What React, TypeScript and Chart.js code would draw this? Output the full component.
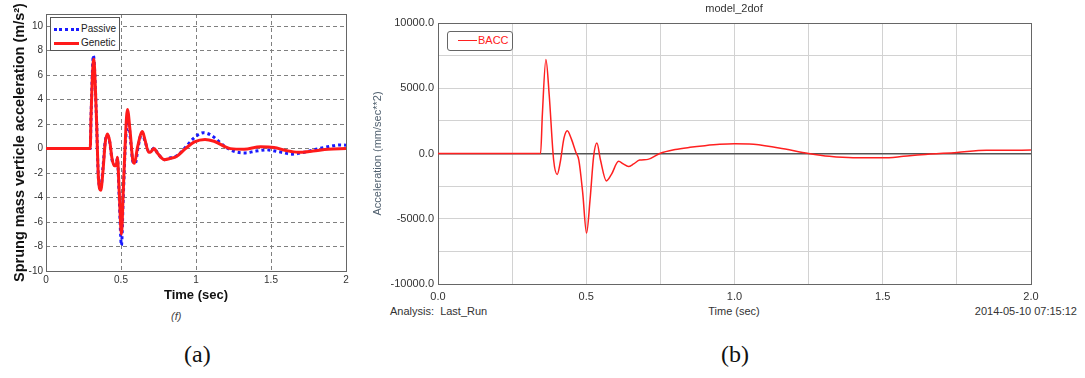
import React, { useEffect, useRef } from "react";
import { Chart, registerables } from "chart.js";

Chart.register(...registerables);

// ---- Data: chart (a) ----
const passiveT = [0, 0.295, 0.3, 0.316, 0.335, 0.35, 0.365, 0.38, 0.395, 0.41, 0.425, 0.44, 0.455, 0.468, 0.476, 0.488, 0.503, 0.515, 0.53, 0.548, 0.565, 0.58, 0.595, 0.615, 0.64, 0.66, 0.685, 0.7, 0.72, 0.745, 0.79, 0.83, 0.87, 0.93, 0.98, 1.05, 1.1, 1.2, 1.26, 1.33, 1.4, 1.47, 1.55, 1.64, 1.72, 1.8, 1.9, 1.96, 2.0];
const passiveV = [0, 0, 2.5, 7.6, 3, -2.5, -3.2, -1.5, 0.6, 1.1, 0.5, -0.9, -1.3, -1.3, -0.8, -4, -7.9, -4, 0.5, 2.2, 0.5, -1.1, -1.2, 0.2, 1.3, 0.6, -0.2, -0.2, 0.05, -0.4, -0.9, -0.75, -0.6, 0.1, 0.8, 1.3, 1.1, 0.1, -0.25, -0.35, -0.2, -0.1, -0.25, -0.45, -0.3, -0.05, 0.2, 0.3, 0.28];
const geneticT = [0, 0.295, 0.3, 0.318, 0.335, 0.35, 0.365, 0.38, 0.395, 0.41, 0.425, 0.44, 0.455, 0.468, 0.476, 0.488, 0.503, 0.515, 0.53, 0.543, 0.56, 0.578, 0.59, 0.61, 0.643, 0.66, 0.685, 0.7, 0.72, 0.745, 0.79, 0.83, 0.87, 0.93, 0.99, 1.06, 1.12, 1.23, 1.32, 1.43, 1.52, 1.6, 1.68, 1.78, 1.88, 2.0];
const geneticV = [0, 0, 2.5, 7.3, 3, -2.5, -3.4, -1.8, 0.5, 1.2, 0.6, -0.8, -1.4, -1.4, -0.7, -3.5, -7.0, -3.5, 1.0, 3.2, 1.5, -0.9, -1.2, 0.1, 1.4, 0.7, -0.3, -0.25, 0, -0.4, -0.9, -0.8, -0.65, 0, 0.55, 0.75, 0.6, 0, -0.05, 0.15, 0.1, -0.15, -0.3, -0.2, -0.05, 0];
const aYTicks = [-10, -8, -6, -4, -2, 0, 2, 4, 6, 8, 10];

// ---- Data: chart (b) ----
const baccT = [0, 0.346, 0.352, 0.364, 0.375, 0.39, 0.402, 0.412, 0.425, 0.436, 0.45, 0.465, 0.475, 0.488, 0.501, 0.513, 0.525, 0.536, 0.548, 0.568, 0.585, 0.609, 0.625, 0.642, 0.66, 0.68, 0.708, 0.748, 0.8, 0.85, 0.9, 0.95, 1.0, 1.05, 1.15, 1.25, 1.32, 1.4, 1.5, 1.57, 1.63, 1.75, 1.85, 2.0];
const baccV = [0, 0, 3000, 7200, 4500, -500, -1600, -700, 1200, 1750, 1100, 100, -500, -3000, -6100, -3500, -200, 800, -500, -2100, -1600, -600, -800, -1000, -800, -500, -450, 0, 300, 470, 600, 700, 740, 730, 420, 0, -220, -330, -330, -220, -100, 80, 240, 260];

const pts = (t: number[], v: number[]) => t.map((x, i) => ({ x, y: v[i] }));

const SANS = "'Liberation Sans', Arial, sans-serif";

const boxPlugin = (color: string) => ({
  id: "boxBorder",
  beforeDatasetsDraw(chart: any) {
    const { ctx, chartArea: a } = chart;
    ctx.save();
    ctx.strokeStyle = color;
    ctx.lineWidth = 1;
    ctx.strokeRect(Math.round(a.left) + 0.5, Math.round(a.top) + 0.5, Math.round(a.right - a.left), Math.round(a.bottom - a.top));
    ctx.restore();
  },
});

function ChartA() {
  const ref = useRef<HTMLCanvasElement>(null);
  useEffect(() => {
    const chart = new Chart(ref.current!, {
      type: "line",
      data: {
        datasets: [
          {
            label: "Passive",
            data: pts(passiveT, passiveV),
            borderColor: "#1a1aff",
            borderWidth: 3,
            borderDash: [3, 3],
            pointRadius: 0,
            cubicInterpolationMode: "monotone",
            order: 2,
          },
          {
            label: "Genetic",
            data: pts(geneticT, geneticV),
            borderColor: "#ff1a1a",
            borderWidth: 3,
            pointRadius: 0,
            cubicInterpolationMode: "monotone",
            order: 1,
          },
        ],
      },
      options: {
        responsive: false,
        animation: false,
        layout: { padding: { left: 0, top: 14, right: 14, bottom: 0 } },
        plugins: { legend: { display: false }, tooltip: { enabled: false } },
        scales: {
          x: {
            type: "linear",
            min: 0,
            max: 2,
            ticks: {
              stepSize: 0.5,
              color: "#333",
              font: { family: SANS, size: 10 },
              padding: 3,
              maxRotation: 0,
              callback: (v: any) => String(Math.round(Number(v) * 100) / 100),
            },
            grid: {
              drawTicks: false,
              color: (c: any) => (c.tick && (c.tick.value === 0 || c.tick.value === 2) ? "rgba(0,0,0,0)" : "#808080"),
            },
            border: { display: false, dash: [4, 3] },
            title: { display: true, text: "Time (sec)", color: "#111", font: { family: SANS, size: 13, weight: "bold" }, padding: { top: 0, bottom: 7 } },
            afterFit: (s: any) => { s.height = 39; },
          },
          y: {
            type: "linear",
            min: -10,
            max: 11,
            afterBuildTicks: (axis: any) => { axis.ticks = aYTicks.map((v) => ({ value: v })); },
            ticks: { color: "#333", font: { family: SANS, size: 10 }, padding: 3 },
            grid: {
              drawTicks: false,
              color: (c: any) => (c.tick && c.tick.value === -10 ? "rgba(0,0,0,0)" : "#808080"),
            },
            border: { display: false, dash: [4, 3] },
            title: { display: true, text: "Sprung mass verticle acceleration (m/s²)", color: "#111", font: { family: SANS, size: 14.5, weight: "bold" }, padding: { top: 11, bottom: 0 } },
            afterFit: (s: any) => { s.width = 46; },
          },
        },
      },
      plugins: [boxPlugin("#666")],
    } as any);
    return () => chart.destroy();
  }, []);
  return <canvas ref={ref} width={360} height={310} style={{ position: "absolute", left: 0, top: 0, width: 360, height: 310 }} />;
}

function ChartB() {
  const ref = useRef<HTMLCanvasElement>(null);
  useEffect(() => {
    const chart = new Chart(ref.current!, {
      type: "line",
      data: {
        datasets: [
          {
            label: "BACC",
            data: pts(baccT, baccV),
            borderColor: "#ff2020",
            borderWidth: 1.5,
            pointRadius: 0,
            cubicInterpolationMode: "monotone",
          },
        ],
      },
      options: {
        responsive: false,
        animation: false,
        layout: { padding: { left: 0, top: 23, right: 54, bottom: 0 } },
        plugins: { legend: { display: false }, tooltip: { enabled: false } },
        scales: {
          x: {
            type: "linear",
            min: 0,
            max: 2,
            ticks: {
              stepSize: 0.25,
              color: "#333",
              font: { family: SANS, size: 11 },
              padding: 6,
              maxRotation: 0,
              autoSkip: false,
              callback: (v: any) => (Math.abs(v * 2 - Math.round(v * 2)) < 1e-6 ? Number(v).toFixed(1) : ""),
            },
            grid: { drawTicks: false, color: "#d2d2d2", lineWidth: 1 },
            border: { display: false },
            afterFit: (s: any) => { s.height = 21; },
          },
          y: {
            type: "linear",
            min: -10000,
            max: 10000,
            ticks: {
              stepSize: 2500,
              color: "#333",
              font: { family: SANS, size: 11 },
              padding: 4,
              autoSkip: false,
              callback: (v: any) => (v % 5000 === 0 ? Number(v).toFixed(1) : ""),
            },
            grid: {
              drawTicks: false,
              color: (c: any) => (c.tick && c.tick.value === 0 ? "#555" : "#d2d2d2"),
              lineWidth: (c: any) => (c.tick && c.tick.value === 0 ? 1.5 : 1),
            },
            border: { display: false },
            title: { display: true, text: "Acceleration (mm/sec**2)", color: "#4f5f6e", font: { family: SANS, size: 11 }, padding: { top: 1, bottom: 0 } },
            afterFit: (s: any) => { s.width = 68; },
          },
        },
      },
      plugins: [boxPlugin("#666")],
    } as any);
    return () => chart.destroy();
  }, []);
  return <canvas ref={ref} width={715} height={305} style={{ position: "absolute", left: 370, top: 0, width: 715, height: 305 }} />;
}

const txt = (extra: React.CSSProperties): React.CSSProperties => ({
  position: "absolute",
  whiteSpace: "pre",
  fontFamily: SANS,
  lineHeight: 1,
  ...extra,
});

export default function App() {
  return (
    <div style={{ position: "absolute", left: 0, top: 0, width: 1085, height: 378, background: "#fff", overflow: "hidden" }}>
      <ChartA />
      <ChartB />
      {/* Legend (a) */}
      <div style={{ position: "absolute", left: 50, top: 17, width: 70, height: 34, border: "1px solid #555", background: "#fff", boxSizing: "border-box" }}>
        <div style={{ position: "absolute", left: 3, top: 10, width: 25, borderTop: "3px dotted #1a1aff" }} />
        <div style={txt({ left: 30, top: 6, fontSize: 10, color: "#222" })}>Passive</div>
        <div style={{ position: "absolute", left: 3, top: 24, width: 25, borderTop: "3px solid #ff1a1a" }} />
        <div style={txt({ left: 30, top: 20, fontSize: 10, color: "#222" })}>Genetic</div>
      </div>
      {/* Legend (b) */}
      <div style={{ position: "absolute", left: 447, top: 31, width: 66, height: 20, border: "1px solid #666", borderRadius: 3, background: "#fff", boxSizing: "border-box" }}>
        <div style={{ position: "absolute", left: 10, top: 8, width: 19, borderTop: "1.5px solid #ff2020" }} />
        <div style={txt({ left: 30, top: 3, fontSize: 11, color: "#ff2020" })}>BACC</div>
      </div>
      <div style={txt({ left: 171, top: 311, fontSize: 11, fontStyle: "italic", color: "#444" })}>(f)</div>
      <div style={txt({ left: 184, top: 342, fontSize: 24, fontFamily: "'Liberation Serif', 'Times New Roman', serif", color: "#111" })}>(a)</div>
      <div style={txt({ left: 721, top: 342, fontSize: 24, fontFamily: "'Liberation Serif', 'Times New Roman', serif", color: "#111" })}>(b)</div>
      <div style={txt({ left: 734, top: 3, fontSize: 11, color: "#333", transform: "translateX(-50%)" })}>model_2dof</div>
      <div style={txt({ left: 390, top: 306, fontSize: 11, color: "#333" })}>{"Analysis:  Last_Run"}</div>
      <div style={txt({ left: 734, top: 306, fontSize: 11, color: "#333", transform: "translateX(-50%)" })}>Time (sec)</div>
      <div style={txt({ right: 8, top: 306, fontSize: 11, color: "#333" })}>2014-05-10 07:15:12</div>
    </div>
  );
}
